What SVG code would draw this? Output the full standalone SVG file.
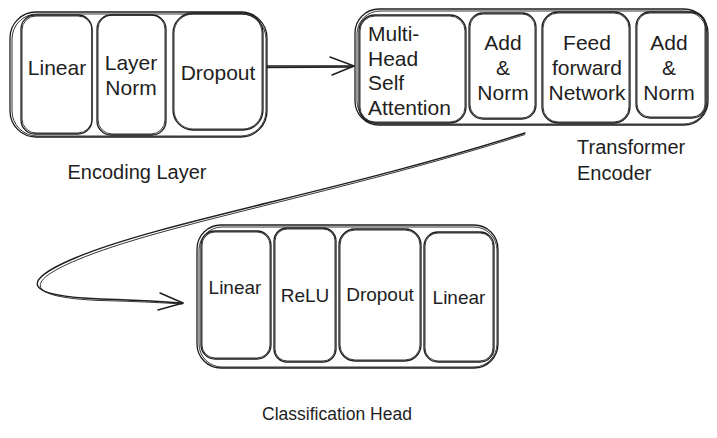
<svg xmlns="http://www.w3.org/2000/svg" width="717" height="438" viewBox="0 0 717 438">
<style>
.b{fill:none;stroke:#1e1e1e;stroke-width:1.3}
.b2{fill:none;stroke:#1e1e1e;stroke-width:0.9}
.t{font-family:"Liberation Sans",Arial,sans-serif;fill:#1e1e1e;font-size:21px}
.s{font-size:19px}
.c{fill:none;stroke:#1e1e1e;stroke-width:1.4;stroke-linecap:round;stroke-linejoin:round}
</style>
<rect width="717" height="438" fill="#ffffff"/>
<g id="encoding-layer">
<rect class="b" x="10" y="12" width="257" height="125" rx="26"/>
<rect class="b2" x="12" y="14" width="254" height="122" rx="25"/>
<g id="enc-linear"><rect class="b" x="21" y="15" width="71" height="119" rx="14"/><rect class="b2" x="22" y="16" width="70" height="117" rx="14"/>
<text class="t" x="57" y="67" text-anchor="middle" dominant-baseline="central">Linear</text></g>
<g id="enc-layernorm"><rect class="b" x="97" y="15" width="69" height="120" rx="14"/><rect class="b2" x="98" y="15" width="67" height="119" rx="14"/>
<text class="t" x="131" y="62" text-anchor="middle" dominant-baseline="central">Layer</text>
<text class="t" x="131" y="87" text-anchor="middle" dominant-baseline="central">Norm</text></g>
<g id="enc-dropout"><rect class="b" x="173" y="13" width="90" height="117" rx="20"/><rect class="b2" x="174" y="14" width="88" height="115" rx="19"/>
<text class="t" x="218" y="72" text-anchor="middle" dominant-baseline="central">Dropout</text></g>
<text class="t" style="font-size:20px" x="137" y="172" text-anchor="middle" dominant-baseline="central">Encoding Layer</text>
</g>
<g id="transformer-encoder">
<rect class="b" x="355" y="9" width="353" height="116" rx="24"/>
<rect class="b2" x="357" y="11" width="350" height="113" rx="23"/>
<g id="mhsa"><rect class="b" x="359" y="15" width="107" height="108" rx="16"/><rect class="b2" x="360" y="16" width="105" height="106" rx="15"/>
<text class="t" x="368" y="33" dominant-baseline="central">Multi-</text>
<text class="t" x="368" y="58" dominant-baseline="central">Head</text>
<text class="t" x="368" y="82" dominant-baseline="central">Self</text>
<text class="t" x="368" y="107" dominant-baseline="central">Attention</text></g>
<g id="addnorm1"><rect class="b" x="469" y="13" width="67" height="106" rx="14"/><rect class="b2" x="470" y="14" width="65" height="104" rx="13"/>
<text class="t" x="503" y="42" text-anchor="middle" dominant-baseline="central">Add</text>
<text class="t" x="503" y="67" text-anchor="middle" dominant-baseline="central">&amp;</text>
<text class="t" x="503" y="92" text-anchor="middle" dominant-baseline="central">Norm</text></g>
<g id="ffn"><rect class="b" x="542" y="12" width="88" height="111" rx="16"/><rect class="b2" x="543" y="13" width="86" height="109" rx="15"/>
<text class="t" x="587" y="42" text-anchor="middle" dominant-baseline="central">Feed</text>
<text class="t" x="587" y="67" text-anchor="middle" dominant-baseline="central">forward</text>
<text class="t" x="587" y="92" text-anchor="middle" dominant-baseline="central">Network</text></g>
<g id="addnorm2"><rect class="b" x="636" y="12" width="70" height="106" rx="14"/><rect class="b2" x="637" y="13" width="68" height="104" rx="13"/>
<text class="t" x="669" y="42" text-anchor="middle" dominant-baseline="central">Add</text>
<text class="t" x="669" y="67" text-anchor="middle" dominant-baseline="central">&amp;</text>
<text class="t" x="669" y="92" text-anchor="middle" dominant-baseline="central">Norm</text></g>
<text class="t" style="font-size:20px" x="577" y="147" dominant-baseline="central">Transformer</text>
<text class="t" style="font-size:20px" x="577" y="173" dominant-baseline="central">Encoder</text>
</g>
<g id="classification-head">
<rect class="b" x="197" y="225" width="301" height="143" rx="24"/>
<rect class="b2" x="199" y="227" width="298" height="140" rx="23"/>
<g id="cls-linear1"><rect class="b" x="201" y="231" width="70" height="128" rx="14"/><rect class="b2" x="202" y="232" width="68" height="126" rx="13"/>
<text class="t s" x="235" y="287" text-anchor="middle" dominant-baseline="central">Linear</text></g>
<g id="cls-relu"><rect class="b" x="274" y="228" width="62" height="134" rx="13"/><rect class="b2" x="275" y="229" width="60" height="132" rx="12"/>
<text class="t s" x="305" y="295" text-anchor="middle" dominant-baseline="central">ReLU</text></g>
<g id="cls-dropout"><rect class="b" x="339" y="229" width="82" height="132" rx="16"/><rect class="b2" x="340" y="230" width="80" height="130" rx="15"/>
<text class="t s" x="380" y="294" text-anchor="middle" dominant-baseline="central">Dropout</text></g>
<g id="cls-linear2"><rect class="b" x="424" y="232" width="70" height="130" rx="14"/><rect class="b2" x="425" y="233" width="68" height="128" rx="13"/>
<text class="t s" x="459" y="297" text-anchor="middle" dominant-baseline="central">Linear</text></g>
<text class="t" style="font-size:17.5px" x="337" y="414" text-anchor="middle" dominant-baseline="central">Classification Head</text>
</g>
<g id="connectors">
<path class="c" d="M267 66 L354 66"/>
<path class="c" d="M267 67.5 L352 67"/>
<path class="c" d="M330 57 L354 66 L332 75"/>
<path class="c" d="M525 133 C340 192 160 222 75 258 C18 282 25 296 100 299 C140 300 165 302 183 303"/>
<path class="b2" d="M525 134.5 C340 193.5 162 224 77 260 C22 283 28 297.5 100 300.5 C140 301.5 165 303 183 304"/>
<path class="c" d="M160 293 L183 303 L158 310"/>
</g>
</svg>
